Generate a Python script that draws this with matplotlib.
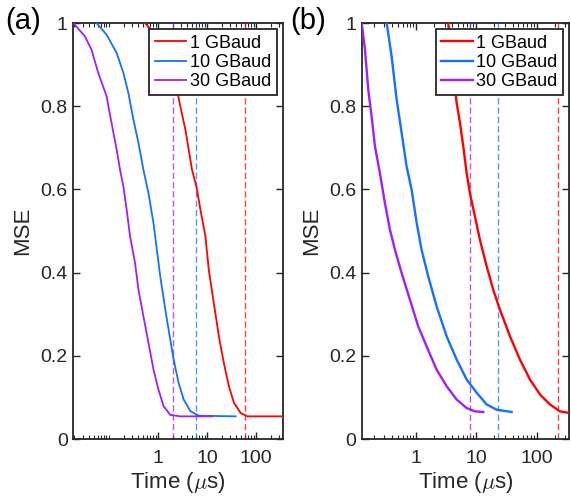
import matplotlib
matplotlib.use("Agg")
import matplotlib.pyplot as plt
from matplotlib.ticker import FixedLocator, LogLocator, NullFormatter
import numpy as np

plt.rcParams['font.family'] = ['Liberation Sans', 'DejaVu Sans']
plt.rcParams['mathtext.fontset'] = 'cm'

# colours used for the three symbol rates
c_red = '#FF0000'
c_blue = '#1570FF'
c_purple = '#A11EF8'
labels = ['1 GBaud', '10 GBaud', '30 GBaud']

# ---- panel (a) : time in us, MSE ----
a_t_1g = [0.552, 0.816, 2.0, 2.87, 3.64, 4.25, 4.97, 6.11, 7.38, 9.33, 10.9, 13.8, 17.5,
		  22.1, 28, 35.5, 48.6, 66.4, 355]
a_mse_1g = [1.0, 0.976, 0.89, 0.8, 0.744, 0.696, 0.647, 0.607, 0.551, 0.487, 0.407, 0.327,
			0.247, 0.183, 0.127, 0.087, 0.0625, 0.0545, 0.0545]
a_t_10g = [0.0564, 0.0904, 0.145, 0.199, 0.251, 0.318, 0.403, 0.509, 0.645, 0.816, 0.955,
		   1.12, 1.42, 1.79, 2.1, 2.65, 3.36, 4.6, 6.8, 38.4]
a_mse_10g = [1.0, 0.972, 0.928, 0.88, 0.832, 0.768, 0.712, 0.647, 0.591, 0.519, 0.455,
			 0.391, 0.311, 0.239, 0.191, 0.135, 0.095, 0.067, 0.056, 0.0545]
a_t_30g = [0.019, 0.0327, 0.0446, 0.0611, 0.0904, 0.114, 0.145, 0.17, 0.199, 0.232, 0.272,
		   0.344, 0.403, 0.509, 0.645, 0.816, 1.03, 1.31, 1.79, 2.87, 12.7]
a_mse_30g = [1.0, 0.968, 0.936, 0.88, 0.824, 0.76, 0.696, 0.647, 0.607, 0.551, 0.487,
			 0.423, 0.359, 0.295, 0.231, 0.167, 0.119, 0.079, 0.058, 0.0545, 0.0545]
a_vlines = [60, 6, 2]

# ---- panel (b) ----
b_t_1g = [3.43, 4.73, 5.37, 6.09, 6.93, 7.86, 9.51, 11.5, 14.9, 19.1, 24.7, 36.2, 53,
		  77.8, 114, 167, 244, 351]
b_mse_1g = [1.0, 0.808, 0.76, 0.704, 0.639, 0.591, 0.535, 0.479, 0.415, 0.359, 0.311,
			0.247, 0.191, 0.143, 0.107, 0.083, 0.0665, 0.0625]
b_t_10g = [0.327, 0.395, 0.479, 0.579, 0.701, 0.849, 1.03, 1.24, 1.6, 2.2, 3.23, 4.73,
		   6.93, 10.2, 14.9, 21.8, 38.6]
b_mse_10g = [1.0, 0.92, 0.816, 0.736, 0.655, 0.599, 0.519, 0.455, 0.391, 0.319, 0.247,
			 0.191, 0.143, 0.111, 0.083, 0.0705, 0.065]
b_t_30g = [0.126, 0.143, 0.162, 0.184, 0.209, 0.253, 0.306, 0.371, 0.449, 0.579, 0.795,
		   1.09, 1.5, 2.2, 3.23, 4.73, 6.93, 9.51, 13.1]
b_mse_30g = [1.0, 0.936, 0.84, 0.776, 0.704, 0.639, 0.567, 0.503, 0.455, 0.399, 0.335,
			 0.271, 0.223, 0.167, 0.127, 0.095, 0.0745, 0.0665, 0.065]
b_vlines = [229, 23, 8]

xticks = [1, 10, 100]
xticklabels = ['1', '10', '100']
yticks = [0, 0.2, 0.4, 0.6, 0.8, 1]
yticklabels = ['0', '0.2', '0.4', '0.6', '0.8', '1']

fig = plt.figure(figsize=(5.71, 4.99), dpi=100)
ax1 = fig.add_axes([0.1284, 0.1202, 0.3673, 0.8337])
ax2 = fig.add_axes([0.6334, 0.1202, 0.3639, 0.8337])


def draw(ax, curves, vlines, xlim, lw):
	cols = [c_red, c_blue, c_purple]
	for (t, m), c, lab in zip(curves, cols, labels):
		ax.plot(t, m, color=c, lw=lw, label=lab, zorder=3)
	for v, c in zip(vlines, cols):
		ax.axvline(v, color=c, lw=1.0, ls=(0, (4.5, 2.2)), alpha=0.75, zorder=2)
	ax.set_xscale('log')
	ax.set_xlim(xlim)
	ax.set_ylim(0, 1)
	ax.xaxis.set_major_locator(FixedLocator(xticks))
	ax.set_xticklabels(xticklabels)
	ax.xaxis.set_minor_locator(LogLocator(base=10, subs=np.arange(1, 10), numticks=20))
	ax.xaxis.set_minor_formatter(NullFormatter())
	ax.set_yticks(yticks)
	ax.set_yticklabels(yticklabels)
	ax.tick_params(which='both', direction='in', top=True, right=True, colors='#262626',
				   labelcolor='#262626', labelsize=14)
	ax.tick_params(axis='x', which='major', length=5, width=1.0, pad=8)
	ax.tick_params(axis='x', which='minor', length=3, width=0.8)
	ax.tick_params(axis='y', which='major', length=5, width=1.0, pad=4)
	for s in ax.spines.values():
		s.set_linewidth(1.3)
		s.set_color('#262626')
	ax.set_xlabel(r'Time ($\mu$s)', fontsize=16, color='#262626', labelpad=2)
	ax.set_ylabel('MSE', fontsize=16, color='#262626', labelpad=5)
	leg = ax.legend(loc='upper right', fontsize=13, frameon=True, fancybox=False,
					edgecolor='#262626', framealpha=1, borderpad=0.3, handlelength=1.75,
					handletextpad=0.2, labelspacing=0.12, borderaxespad=0.35)
	leg.get_frame().set_linewidth(1.3)


draw(ax1, [(a_t_1g, a_mse_1g), (a_t_10g, a_mse_10g), (a_t_30g, a_mse_30g)],
	 a_vlines, (0.019, 355), 1.3)
draw(ax2, [(b_t_1g, b_mse_1g), (b_t_10g, b_mse_10g), (b_t_30g, b_mse_30g)],
	 b_vlines, (0.126, 351), 1.7)

fig.text(0.009, 1 - 21 / 499, '(a)', fontsize=21, va='center', ha='left')
fig.text(0.509, 1 - 21 / 499, '(b)', fontsize=21, va='center', ha='left')

fig.savefig('out.png', dpi=100)
